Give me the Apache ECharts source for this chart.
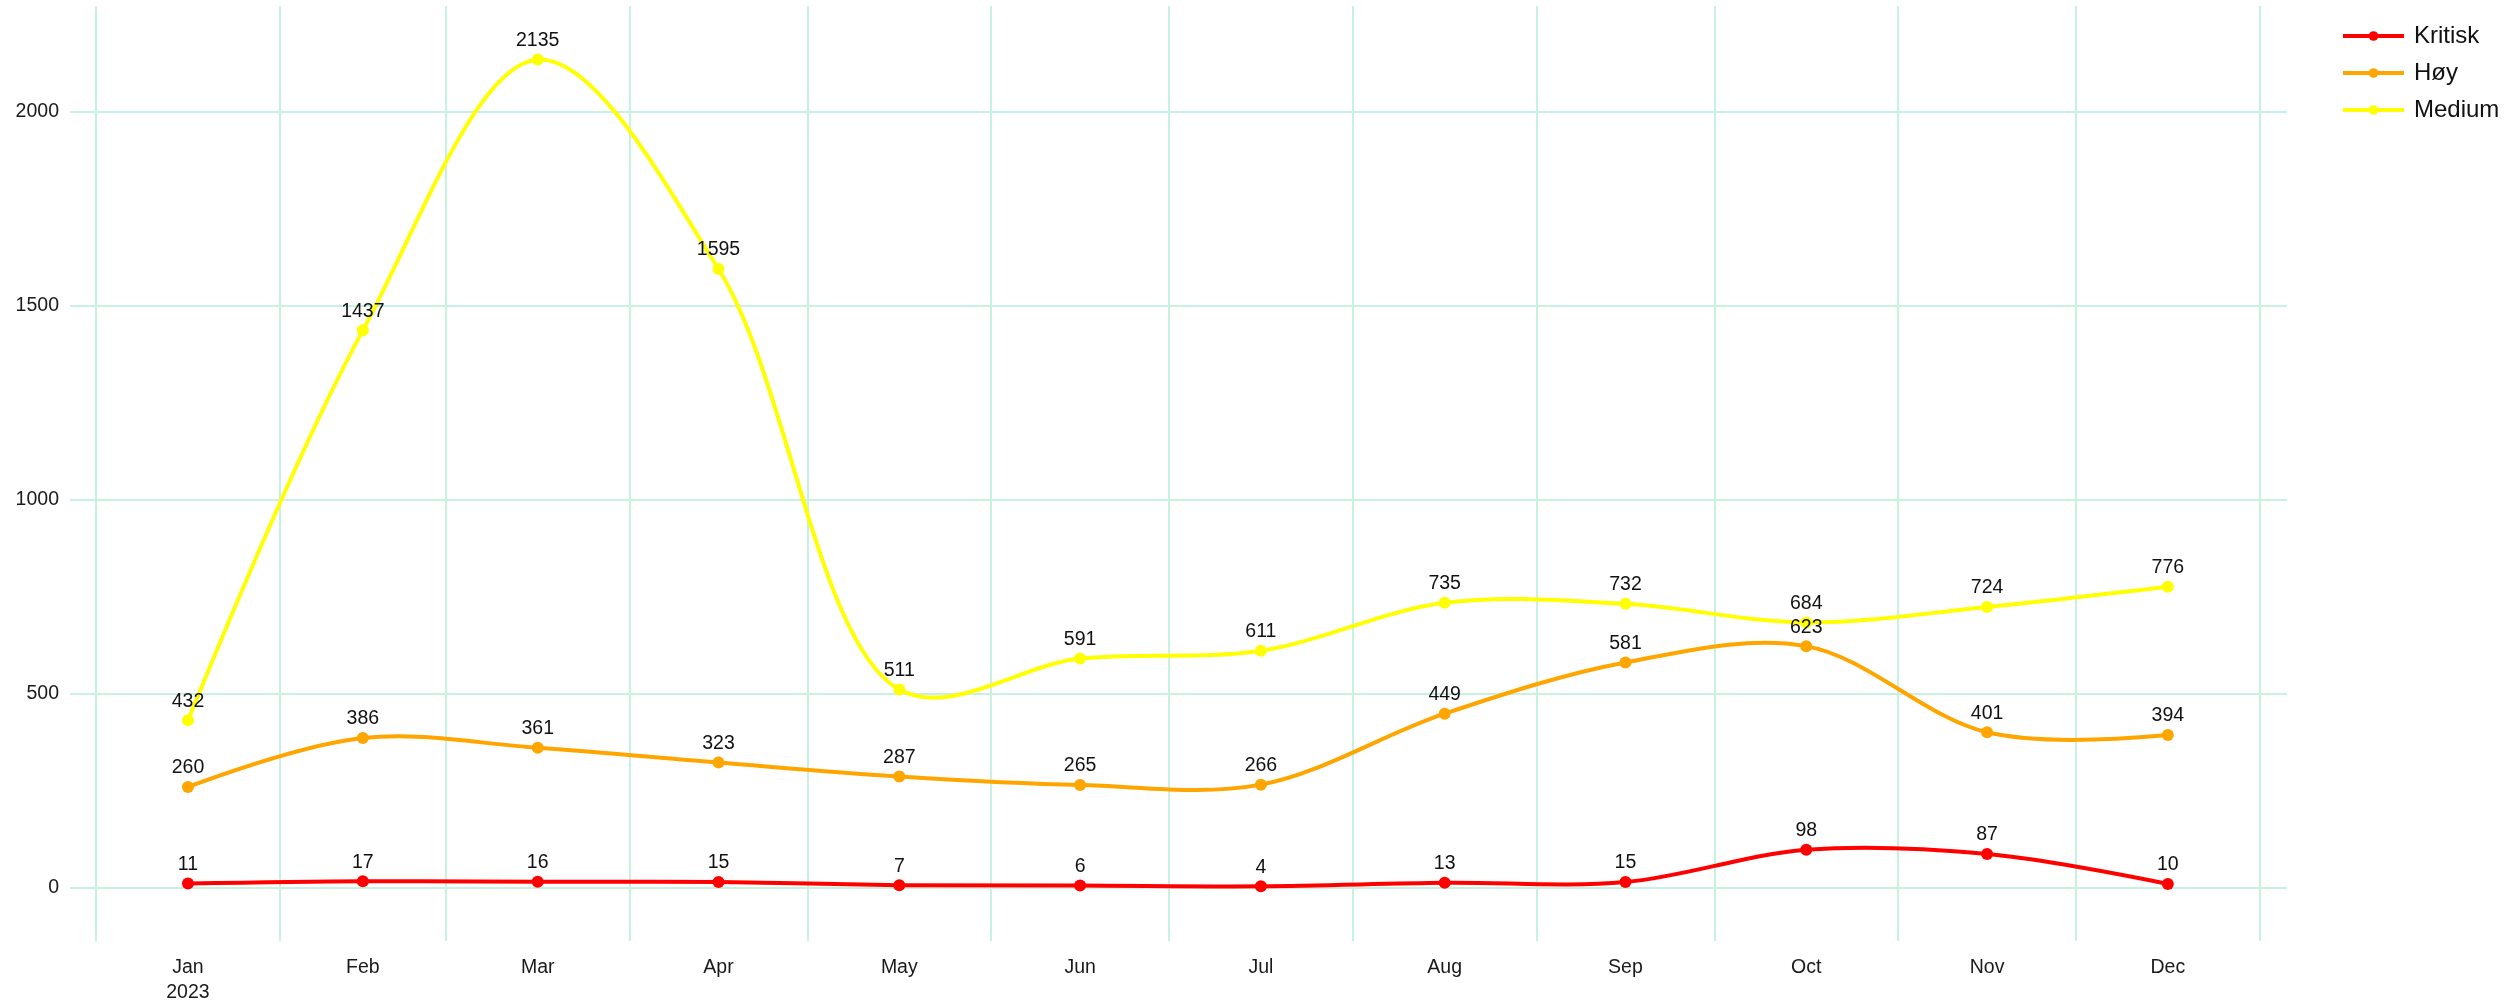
<!DOCTYPE html>
<html>
<head>
<meta charset="utf-8">
<script src="https://cdn.jsdelivr.net/npm/echarts@6/dist/echarts.min.js"></script>
<style>
  html, body { margin: 0; padding: 0; background: #ffffff; }
  #chart { width: 2507px; height: 1005px; }
</style>
</head>
<body>
<div id="chart"></div>
<script>
// Monthly counts per severity, 2023
const year = 2023;
const monthLabels = ['Jan', 'Feb', 'Mar', 'Apr', 'May', 'Jun', 'Jul', 'Aug', 'Sep', 'Oct', 'Nov', 'Dec'];
const seriesNames = ['Kritisk', 'Høy', 'Medium'];
const kritisk = [11, 17, 16, 15, 7, 6, 4, 13, 15, 98, 87, 10];
const hoy = [260, 386, 361, 323, 287, 265, 266, 449, 581, 623, 401, 394];
const medium = [432, 1437, 2135, 1595, 511, 591, 611, 735, 732, 684, 724, 776];
const seriesColors = ['#ff0000', '#ffa500', '#ffff00'];
const yTicks = [0, 500, 1000, 1500, 2000];

const DAY = 86400000;
const gridColor = '#c8f2e0';
const font = 'Liberation Sans, Arial, sans-serif';
const textSize = 19.5;

// x is measured in days since 1 Jan; each month sits at its midpoint,
// vertical grid lines fall on the first day of each month
const dayOfYear = m => (Date.UTC(year, m, 1) - Date.UTC(year, 0, 1)) / DAY;
const mids = monthLabels.map((_, i) => (dayOfYear(i) + dayOfYear(i + 1)) / 2);
const starts = monthLabels.map((_, i) => dayOfYear(i)).concat([dayOfYear(12)]);

// Centripetal Catmull-Rom style spline through pixel points
// (quadratic end segments, cubic segments in between)
function splineTangent(p0, p1, p2, smoothness) {
  const e = 0.5;
  const d1x = p0[0] - p1[0], d1y = p0[1] - p1[1];
  const d2x = p2[0] - p1[0], d2y = p2[1] - p1[1];
  const d1a = Math.pow(d1x * d1x + d1y * d1y, e / 2);
  const d2a = Math.pow(d2x * d2x + d2y * d2y, e / 2);
  const numx = (d2a * d2a * d1x - d1a * d1a * d2x) * smoothness;
  const numy = (d2a * d2a * d1y - d1a * d1a * d2y) * smoothness;
  const den1 = 3 * d2a * (d1a + d2a);
  const den2 = 3 * d1a * (d1a + d2a);
  return [
    [p1[0] + (den1 && numx / den1), p1[1] + (den1 && numy / den1)],
    [p1[0] - (den2 && numx / den2), p1[1] - (den2 && numy / den2)]
  ];
}

function splinePath(pts, smoothness) {
  const f = p => p[0].toFixed(2) + ' ' + p[1].toFixed(2);
  if (pts.length < 3) return 'M' + pts.map(f).join('L');
  const t = [];
  for (let i = 1; i < pts.length - 1; i++) t.push(splineTangent(pts[i - 1], pts[i], pts[i + 1], smoothness));
  let d = 'M' + f(pts[0]) + 'Q' + f(t[0][0]) + ' ' + f(pts[1]);
  for (let i = 2; i < pts.length - 1; i++) {
    d += 'C' + f(t[i - 2][1]) + ' ' + f(t[i - 1][0]) + ' ' + f(pts[i]);
  }
  d += 'Q' + f(t[pts.length - 3][1]) + ' ' + f(pts[pts.length - 1]);
  return d;
}

function curveSeries(name, values, color) {
  return {
    name: name,
    type: 'custom',
    silent: true,
    z: 2,
    data: values.map((v, i) => [mids[i], v]),
    encode: { x: 0, y: 1 },
    renderItem: function (params, api) {
      if (params.dataIndex !== 0) return null;
      const pts = values.map((v, i) => api.coord([mids[i], v]));
      return {
        type: 'path',
        shape: { pathData: splinePath(pts, 1) },
        style: { stroke: color, lineWidth: 4, fill: null, lineJoin: 'round', lineCap: 'round' }
      };
    }
  };
}

function pointSeries(name, values, color) {
  return {
    name: name,
    type: 'line',
    z: 3,
    symbol: 'circle',
    symbolSize: 12,
    data: values.map((v, i) => [mids[i], v]),
    itemStyle: { color: color },
    lineStyle: { color: color, width: 4, opacity: 0 },
    label: {
      show: true,
      position: 'top',
      distance: 3,
      color: '#111111',
      fontSize: textSize,
      fontFamily: font
    },
    emphasis: { disabled: true }
  };
}

const valueSets = [kritisk, hoy, medium];
const series = [];
seriesNames.forEach((n, k) => {
  series.push(pointSeries(n, valueSets[k], seriesColors[k]));
  series.push(curveSeries(n, valueSets[k], seriesColors[k]));
});

const chart = echarts.init(document.getElementById('chart'), null, { renderer: 'canvas' });
chart.setOption({
  animation: false,
  backgroundColor: '#ffffff',
  grid: { left: 70, right: 220, top: 6, bottom: 59, containLabel: false },
  legend: {
    orient: 'vertical',
    left: 2341,
    top: 24,
    padding: 0,
    itemWidth: 61,
    itemHeight: 12,
    itemGap: 13,
    data: seriesNames.map((n, k) => ({
      name: n,
      itemStyle: { color: seriesColors[k] },
      lineStyle: { color: seriesColors[k], width: 4, opacity: 1 }
    })),
    textStyle: { fontSize: 24, color: '#111111', fontFamily: font, padding: [0, 0, 0, 5] }
  },
  xAxis: {
    type: 'value',
    min: starts[0] - 4.4,
    max: starts[12] + 4.6,
    axisLine: { show: false },
    axisTick: { show: false, customValues: starts },
    splitLine: { show: true, lineStyle: { color: gridColor, width: 2 } },
    axisLabel: {
      customValues: mids,
      margin: 14,
      fontSize: textSize,
      lineHeight: 25,
      color: '#1a1a1a',
      fontFamily: font,
      formatter: function (v) {
        const m = mids.indexOf(v);
        return m === 0 ? monthLabels[m] + '\n' + year : monthLabels[m];
      }
    }
  },
  yAxis: {
    type: 'value',
    min: -137,
    max: 2273,
    axisLine: { show: false },
    axisTick: { show: false, customValues: yTicks },
    splitLine: { show: true, lineStyle: { color: gridColor, width: 2 } },
    axisLabel: {
      customValues: yTicks,
      margin: 11,
      fontSize: textSize,
      color: '#1a1a1a',
      fontFamily: font,
      formatter: v => String(v)
    }
  },
  series: series
});
</script>
</body>
</html>
